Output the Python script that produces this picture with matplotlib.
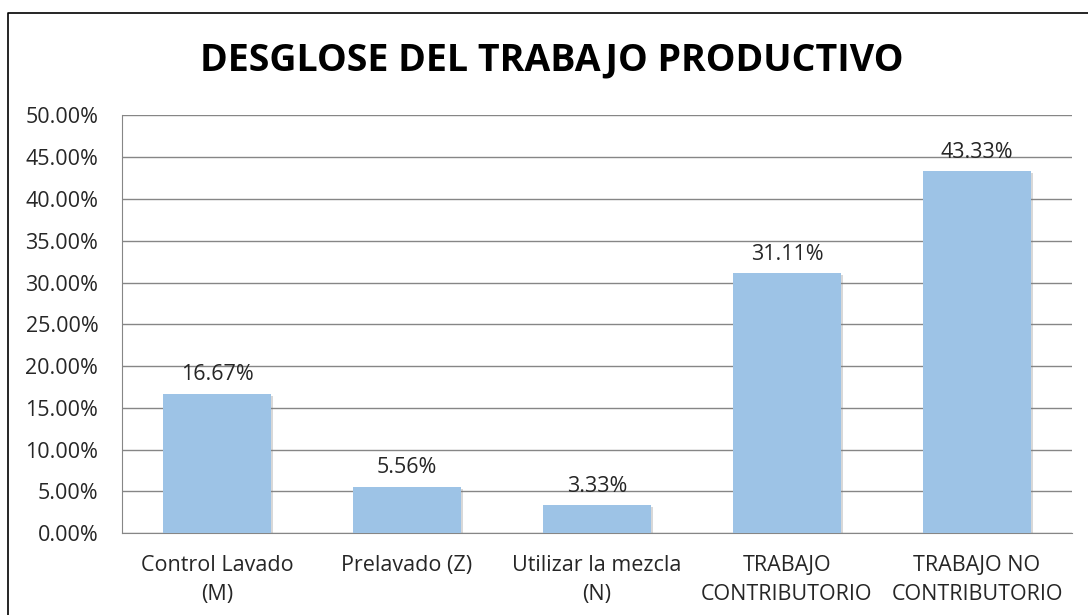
import matplotlib
matplotlib.use("Agg")
from matplotlib import pyplot as plt
from matplotlib import patheffects as pe
from matplotlib.lines import Line2D
from matplotlib.ticker import FuncFormatter, MultipleLocator

plt.rcParams['font.family'] = ['Open Sans', 'DejaVu Sans']

categories = ["Control Lavado\n(M)", "Prelavado (Z)", "Utilizar la mezcla\n(N)",
              "TRABAJO\nCONTRIBUTORIO", "TRABAJO NO\nCONTRIBUTORIO"]
values = [16.67, 5.56, 3.33, 31.11, 43.33]
title = "DESGLOSE DEL TRABAJO PRODUCTIVO"

fig = plt.figure(figsize=(10.88, 6.15), dpi=100)
ax = fig.add_axes([0.1121, 0.1333, 0.8732, 0.6789])

x = list(range(len(values)))
bars = ax.bar(x, values, width=0.57, color="#9DC3E6", zorder=3)
for b in bars:
    b.set_path_effects([pe.SimplePatchShadow(offset=(1.5, -1.5), shadow_rgbFace="#7f7f7f", alpha=0.3),
                        pe.Normal()])

for xi, v in zip(x, values):
    ax.annotate("%.2f%%" % v, (xi, v), xytext=(0, 6), textcoords="offset points",
                ha="center", va="bottom", fontsize=15.5, color="#262626")

ax.set_xlim(-0.5, len(values) - 0.5)
ax.set_ylim(0, 50)
ax.yaxis.set_major_locator(MultipleLocator(5))
ax.yaxis.set_major_formatter(FuncFormatter(lambda v, p: "%.2f%%" % v))
ax.set_xticks(x)
ax.set_xticklabels(categories, linespacing=1.5, va="top")
ax.tick_params(axis="both", length=0, labelsize=15.5, labelcolor="#262626")
ax.tick_params(axis="x", pad=16)
ax.tick_params(axis="y", pad=17)
for lbl in ax.get_yticklabels():
    lbl.set_horizontalalignment("right")

ax.grid(axis="y", color="#868686", linewidth=1, zorder=0)
ax.set_axisbelow(True)
for s in ["top", "right"]:
    ax.spines[s].set_visible(False)
ax.spines["left"].set_color("#868686")
ax.spines["bottom"].set_color("#868686")

fig.text(0.507, 0.902, title, ha="center", va="center", fontsize=27, fontweight="bold", color="black")

# chart border (left and top visible)
fig.add_artist(Line2D([8 / 1088, 8 / 1088, 1.0], [0.0, 1 - 13 / 615, 1 - 13 / 615],
                      transform=fig.transFigure, color="black", linewidth=1.2))

fig.savefig("out.png", dpi=100)
